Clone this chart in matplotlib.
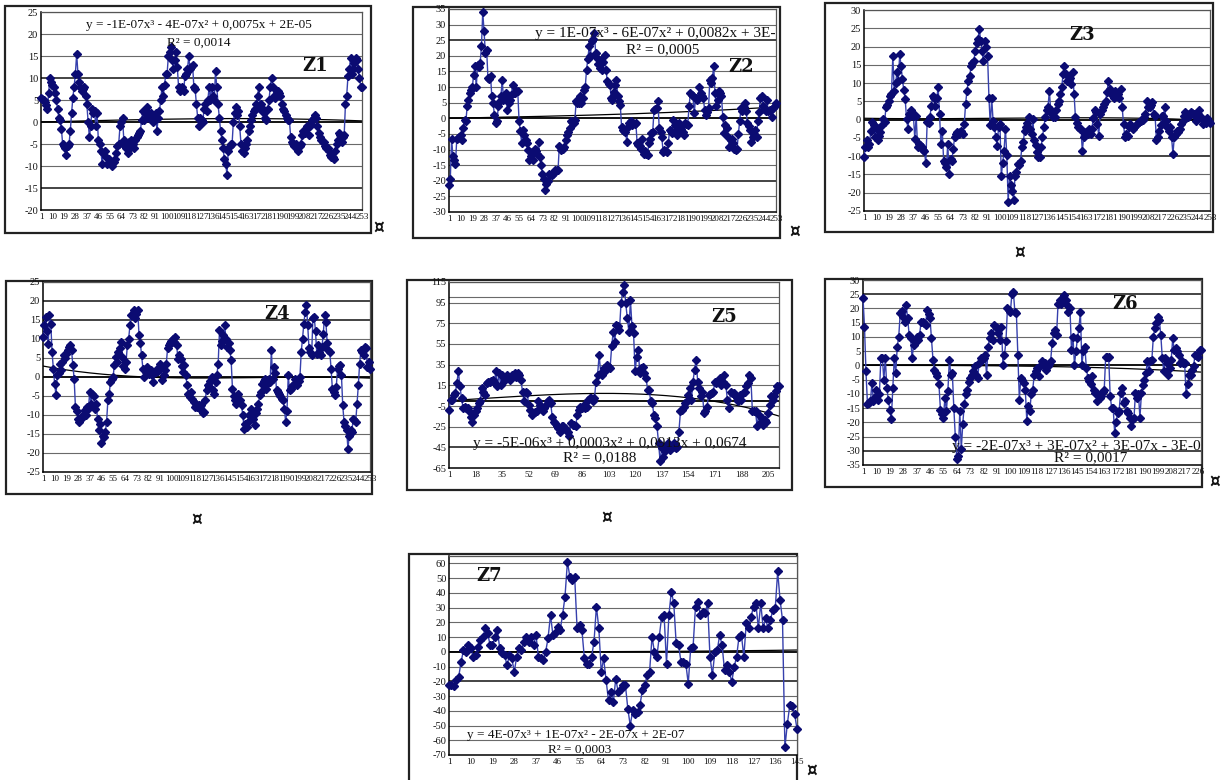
import numpy as np
import matplotlib
matplotlib.use("Agg")
import matplotlib.pyplot as plt
from matplotlib.patches import Rectangle

plt.rcParams['font.family'] = ['Liberation Serif', 'DejaVu Serif']

W, H = 1229, 780

# ---- series values (one value per observation) ----
z1_values = [
    5.5, 5.2, 5.0, 4.6, 3.8, 3.0, 6.5, 10.0, 9.0, 8.5,
    8.0, 6.5, 5.0, 3.0, 1.0, 0.5, -1.5, -5.0, -5.5, -6.0,
    -7.5, -5.5, -5.0, -2.0, 2.0, 5.5, 8.0, 11.0, 15.5, 11.0,
    9.0, 8.0, 7.0, 7.5, 8.0, 6.0, 4.0, 0.0, -3.5, -1.0,
    3.0, 2.0, 2.5, -1.0, 2.0, -4.0, -5.0, -6.5, -9.5, -7.0,
    -6.5, -8.0, -9.5, -8.5, -9.0, -9.5, -10.0, -9.0, -8.5, -7.0,
    -5.5, -5.0, -1.0, 0.0, 1.0, -4.0, -5.5, -6.0, -7.0, -4.5,
    -6.0, -4.0, -5.0, -6.0, -4.0, -3.5, -3.0, -2.5, -2.0, 0.5,
    2.5, 0.5, 2.0, 3.5, 2.0, 1.0, 2.0, 1.0, 0.0, 1.0,
    2.0, -2.0, 1.0, 2.5, 5.0, 8.0, 6.0, 8.5, 11.0, 11.0,
    15.0, 16.0, 17.0, 14.0, 12.0, 14.0, 16.0, 12.5, 8.0, 7.0,
    7.5, 8.0, 7.0, 10.5, 11.0, 12.0, 15.0, 12.0, 12.5, 13.0,
    8.0, 7.5, 4.0, 1.0, -1.0, 1.0, 0.5, 0.0, 3.0, 4.0,
    2.5, 5.0, 8.0, 5.0, 8.0, 6.0, 5.0, 11.5, 8.0, 4.0,
    1.0, -2.0, -4.0, -6.0, -8.5, -9.5, -12.0, -6.5, -5.5, -5.0,
    -5.0, 0.0, 2.0, 3.5, 1.5, 2.5, -1.0, -5.0, -6.5, -7.0,
    -6.0, -5.0, -4.0, -2.0, -1.0, 0.5, 1.5, 2.5, 3.0, 4.0,
    6.0, 8.0, 3.0, 4.0, 3.0, 2.0, 1.0, 0.5, 3.0, 5.0,
    8.0, 10.0, 8.0, 6.0, 5.5, 6.5, 7.0, 6.5, 6.0, 4.0,
    3.0, 2.5, 1.5, 1.0, 0.5, 0.5, -3.5, -4.5, -5.0, -5.5,
    -5.0, -6.0, -6.5, -5.5, -5.0, -3.0, -2.0, -2.5, -1.5, -1.0,
    -3.0, -1.0, -0.5, 0.5, 1.0, 1.5, 1.0, -1.0, -2.5, -3.5,
    -4.0, -4.5, -4.5, -5.5, -6.0, -6.0, -6.5, -7.5, -8.0, -8.0,
    -8.5, -6.5, -5.0, -4.0, -2.5, -3.0, -4.5, -3.5, -3.0, 4.0,
    6.0, 10.5, 12.0, 14.5, 11.0, 12.0, 13.5, 14.5, 14.0, 12.0,
    10.0, 8.0, 8.0,
]

z2_values = [
    -21.5, -19.5, -6.5, -12.0, -13.5, -14.5, -6.5, -6.2, -6.0, -5.4, -7.0, -3.0,
    -0.5, -1.0, 3.8, 6.0, 8.0, 9.0, 10.0, 14.0, 16.7, 10.0, 17.0, 16.5,
    17.7, 23.0, 34.0, 28.0, 21.0, 22.0, 13.0, 12.5, 13.5, 7.0, 5.0, 1.0,
    -1.6, -1.0, 3.8, 5.5, 7.0, 12.4, 6.0, 7.0, 8.0, 2.7, 5.0, 6.0,
    7.5, 10.8, 8.0, 8.2, 8.6, 8.6, -1.0, -4.0, -8.0, -3.8, -5.4, -7.0,
    -8.0, -10.0, -13.4, -12.0, -10.8, -13.4, -9.7, -10.5, -11.3, -7.5, -12.4, -15.0,
    -17.7, -19.4, -23.0, -21.0, -20.0, -17.7, -18.3, -18.0, -17.7, -17.2, -16.7, -16.5,
    -16.7, -9.0, -10.0, -9.8, -9.7, -9.1, -7.0, -5.5, -4.3, -3.2, -1.0, -1.2,
    -1.6, -0.5, 5.4, 5.0, 4.8, 7.0, 4.8, 6.5, 9.0, 10.0, 15.6, 19.0,
    23.0, 20.0, 24.7, 25.5, 27.4, 21.0, 19.4, 17.5, 16.0, 18.8, 15.6, 18.0,
    20.4, 15.6, 11.8, 11.0, 10.8, 6.5, 6.0, 8.5, 10.8, 12.4, 7.0, 5.5,
    4.3, -2.7, -3.8, -4.0, -4.3, -7.5, -2.7, -1.5, -1.0, -2.0, -1.6, -1.8,
    -1.6, -8.0, -8.6, -9.0, -9.7, -6.5, -11.3, -10.5, -11.3, -11.8, -8.0, -6.5,
    -4.8, -4.3, 2.7, 3.0, 3.2, 5.4, -3.2, -4.5, -6.0, -10.8, -10.2, -10.5,
    -10.8, -8.0, -3.8, -4.2, -4.8, -0.5, -2.0, -4.0, -5.4, -1.6, -2.7, -3.5,
    -4.3, -5.4, -1.6, -1.8, -2.0, 3.8, 8.0, 7.5, 7.0, 1.6, 6.5, 6.0,
    6.5, 10.0, 8.0, 7.0, 6.5, 2.7, 1.0, 2.0, 3.2, 12.4, 11.3, 13.0,
    16.7, 8.0, 3.8, 6.0, 8.6, 8.0, 7.0, 0.5, -4.8, -2.0, -3.2, -6.0,
    -9.1, -7.0, -6.5, -8.0, -9.7, -10.2, -9.7, -5.0, -1.0, 3.2, 2.2, 3.5,
    4.8, 2.2, -1.6, -2.5, -3.8, -7.5, -6.0, -5.0, -3.8, -6.0, -1.0, 2.0,
    6.5, 7.0, 3.8, 3.0, 2.2, 6.0, 2.2, 2.5, 2.7, 0.5, 3.2, 4.0,
    4.8,
]

z3_values = [
    -10.3, -7.5, -5.7, -7.5, -6.6, -3.0, -0.7, -1.6, -4.8, -2.1, -5.7, -4.5,
    -3.5, -1.6, 0.2, -0.7, 3.4, 4.0, 5.2, 6.5, 7.0, 17.5, 7.9, 10.0,
    12.9, 10.6, 17.9, 14.7, 11.0, 8.0, 5.6, 0.2, -2.5, 1.5, 2.5, 2.0,
    1.1, -5.3, 1.1, -7.5, -6.6, -7.0, -7.5, -8.2, -8.5, -12.0, -0.7, -1.0,
    0.6, 3.8, 6.5, 6.0, 3.8, 6.0, 8.8, 1.5, -6.6, -3.0, -11.2, -12.0,
    -13.0, -6.6, -14.8, -10.7, -11.2, -8.0, -4.8, -3.9, -3.5, -3.9, -3.5, -3.0,
    -3.9, -1.2, 4.3, 7.9, 10.6, 12.0, 14.7, 15.6, 16.0, 18.8, 21.0, 22.0,
    24.7, 21.5, 18.8, 16.0, 21.5, 20.0, 17.5, 6.0, -1.6, 6.0, -0.3, -2.0,
    -4.8, -7.1, -2.1, -1.2, -15.3, -12.0, -8.5, -2.5, -9.8, -22.5, -15.3, -18.0,
    -19.4, -22.1, -15.3, -14.4, -12.1, -12.5, -11.2, -7.5, -6.2, -3.0, -2.1, -1.0,
    0.6, -2.5, -3.9, 0.2, -5.7, -7.0, -8.9, -10.3, -10.3, -7.5, -4.8, -2.0,
    0.6, 2.5, 3.4, 7.9, 2.5, 1.5, 0.6, 0.6, 2.5, 4.3, 5.2, 7.0,
    8.8, 12.5, 14.7, 12.5, 10.6, 11.0, 11.5, 9.7, 12.9, 7.0, 0.6, -1.0,
    -2.1, -2.5, -2.5, -8.5, -4.8, -4.0, -3.5, -3.9, -2.5, -3.9, -2.5, 0.5,
    2.5, 2.0, -1.2, -4.4, 1.5, 2.5, 3.4, 4.3, 5.2, 7.5, 10.6, 8.5,
    7.0, 7.5, 6.0, 7.9, 6.5, 7.0, 6.0, 8.4, 3.4, -1.2, -4.8, -4.0,
    -4.4, -2.1, -1.2, -2.1, -2.5, -2.0, -1.6, -1.2, -0.7, -0.3, -0.3, 0.0,
    0.6, 1.5, 5.2, 3.4, 3.4, 4.0, 4.7, 1.5, 1.1, -5.7, -4.8, -3.0,
    -1.6, 1.1, 1.1, 3.4, -0.3, -2.0, -3.0, -2.1, -4.8, -9.4, -4.8, -4.0,
    -3.0, -3.5, -2.5, -1.2, -0.3, 1.0, 2.0, 1.5, 0.6, 1.1, 2.0, 1.8,
    1.5, 1.1, -0.3, 1.5, 2.5, 1.0, 0.2, -1.2, -0.7, -1.0, 0.5, -0.5,
    -1.0,
]

z4_values = [
    10.5, 13.6, 15.8, 12.0, 8.8, 16.2, 14.0, 6.6, 2.0,
    -1.8, -4.8, 0.4, 1.0, 3.5, 1.8, 3.9, 5.7, 5.0,
    6.1, 7.0, 7.9, 8.5, 7.0, 3.1, -0.4, -7.9, -9.0,
    -11.0, -11.8, -11.0, -10.5, -10.1, -8.8, -10.1, -7.9, -8.5,
    -3.9, -7.0, -4.4, -5.0, -8.3, -7.0, -11.0, -14.0, -12.5,
    -17.5, -15.4, -15.8, -14.5, -11.8, -6.1, -4.4, -1.3, -0.5,
    0.0, 3.1, 5.3, 4.0, 6.6, 7.5, 9.2, 5.3, 3.0,
    2.2, 3.9, 8.3, 10.0, 13.6, 16.2, 16.7, 17.5, 15.5,
    16.7, 17.5, 11.0, 9.0, 5.7, 2.2, 0.0, 1.3, 2.5,
    1.8, 0.9, 1.8, 0.5, -1.3, 1.3, 1.3, 2.2, 1.5,
    3.5, 2.6, -0.9, 0.5, 1.8, 3.5, 7.5, 8.3, 9.0,
    9.6, 10.1, 9.2, 10.5, 8.3, 4.8, 5.7, 4.8, 3.0,
    1.3, 3.1, 0.4, -2.0, -4.4, -5.3, -3.9, -5.7, -6.5,
    -7.9, -7.0, -7.9, -7.5, -8.3, -7.5, -9.6, -9.2, -6.0,
    -3.5, -2.2, -2.6, -1.0, 0.0, -3.5, -4.4, -1.3, 0.5,
    3.5, 12.3, 8.3, 9.5, 11.0, 13.6, 10.1, 7.9, 9.0,
    7.0, 4.4, -3.1, -5.0, -6.1, -7.0, -4.4, -6.6, -6.0,
    -7.5, -10.1, -13.6, -12.5, -13.2, -11.8, -10.1, -8.3, -9.5,
    -11.0, -12.7, -9.6, -8.5, -7.0, -4.8, -3.9, -1.8, -1.0,
    -0.4, -3.1, -1.8, -0.5, -1.3, 7.0, -0.4, 2.6, 1.0,
    -3.5, -3.9, -4.4, -5.0, -5.7, -6.1, -8.3, -11.8, -9.0,
    0.4, -3.5, -3.1, -2.5, -2.2, -0.4, -1.8, -2.2, -1.0,
    0.0, 6.6, 10.1, 14.0, 17.1, 18.9, 13.6, 7.5, 6.5,
    5.7, 15.4, 15.8, 12.0, 6.1, 8.3, 6.6, 5.7, 8.0,
    11.4, 16.2, 14.5, 9.0, 7.0, 6.6, 2.2, -3.1, -4.0,
    -4.8, -2.6, 2.2, 2.8, 3.1, 0.4, -7.5, -11.8, -13.0,
    -14.0, -18.9, -15.4, -14.0, -14.5, -11.0, -11.4, -11.8, -7.0,
    -2.2, 3.5, 7.0, 6.5, 5.7, 7.9, 7.5, 2.6, 4.0,
    2.2,
]

z5_values = [
    -8.7, 1.0, 1.0, 5.8, 7.4, 17.0, 28.4, 13.9, 2.6, -7.1, -5.5, -7.1, -7.1, -10.0,
    -15.2, -20.0, -13.5, -10.3, -7.1, -2.3, -0.6, 12.3, 9.0, 5.8, 17.0, 18.7, 18.7, 19.5,
    20.3, 18.7, 28.4, 13.9, 26.8, 15.5, 25.2, 21.9, 20.3, 25.2, 21.9, 20.3, 25.2, 24.0,
    26.8, 23.5, 26.8, 25.2, 20.3, 9.0, -0.6, 9.0, 7.4, -3.9, -8.7, -13.5, -11.9, -11.0,
    -10.3, -0.6, -3.9, -7.1, -10.3, -7.1, -3.9, -0.6, 1.0, -2.3, -15.2, -20.0, -21.6, -24.0,
    -26.5, -29.7, -24.8, -24.8, -26.5, -28.0, -29.7, -34.5, -21.6, -23.2, -23.2, -24.8, -13.5, -9.0,
    -5.5, -7.1, -3.9, -7.1, -5.5, 1.0, 2.6, 2.6, -0.6, 2.6, 18.7, 25.2, 44.5, 27.0,
    25.2, 31.6, 28.4, 34.8, 33.2, 31.6, 52.6, 67.0, 57.4, 73.5, 72.0, 68.7, 94.5, 105.0,
    112.0, 94.5, 80.0, 67.0, 97.7, 72.0, 65.5, 28.4, 42.9, 49.4, 26.8, 31.6, 33.2, 27.0,
    21.9, 10.6, 10.6, -0.6, -2.3, -13.5, -16.8, -24.8, -41.0, -58.7, -45.8, -53.9, -49.0, -44.0,
    -41.0, -47.4, -45.8, -44.2, -41.0, -45.8, -44.2, -29.7, -10.3, -8.7, -5.5, -2.3, -0.6, 6.0,
    12.3, 1.0, 18.7, 30.0, 39.7, 18.7, 12.3, 4.2, 9.0, -11.9, -10.3, -5.5, 5.8, 6.5,
    7.4, 9.0, 18.7, 17.0, 18.7, 21.9, 15.5, 18.7, 25.2, 15.5, 1.0, -7.1, 9.0, 8.0,
    7.4, 5.8, 2.6, -0.6, 5.8, 1.0, 7.4, 9.0, 13.9, 17.0, 25.2, 21.9, -10.3, -10.0,
    -10.3, -24.8, -13.5, -21.6, -16.8, -23.2, -18.4, -20.0, -11.9, -3.9, 4.2, 1.0, 4.2, 10.0,
    13.9, 13.9,
]

z6_values = [
    23.7, 13.6, -2.1, -13.7, -13.1, -12.6, -6.2, -12.6, -11.0,
    -8.5, -12.0, -10.2, 2.6, 2.6, -5.0, 2.6, -7.9, -12.0,
    -15.5, -19.0, -7.9, 2.6, -2.7, 6.6, 10.1, 18.3, 19.0,
    17.1, 15.3, 21.2, 16.5, 10.7, 9.5, 2.6, 7.2, 8.5,
    10.1, 9.0, 10.7, 15.3, 15.3, 14.8, 14.2, 19.4, 18.0,
    16.5, 9.5, 2.0, -1.5, -2.7, -3.8, -6.7, -15.5, -17.0,
    -18.4, -11.4, -16.0, -9.1, 2.0, -3.3, -2.7, -15.0, -25.0,
    -32.9, -31.7, -16.0, -29.4, -20.7, -13.7, -10.2, -8.5, -6.0,
    -4.4, -3.3, -2.1, -0.3, -3.3, -4.4, 0.8, 2.6, 2.0,
    2.6, 3.7, -3.3, 6.6, 9.5, 11.3, 9.0, 14.2, 13.5,
    13.0, 11.3, 9.0, 13.6, 0.2, 3.7, 8.4, 20.0, 19.5,
    18.8, 25.2, 25.8, 18.8, 18.3, 3.7, -12.0, -4.4, -5.0,
    -6.2, -8.5, -19.5, -14.3, -16.0, -10.2, -8.5, -3.3, -2.0,
    -0.9, -3.8, -0.3, 1.4, 0.2, 0.8, -1.5, -0.3, 0.5,
    1.4, 7.8, 11.3, 12.4, 10.7, 21.7, 22.9, 21.7, 23.5,
    24.7, 22.9, 21.2, 18.8, 20.0, 5.5, 10.1, 0.2, 5.0,
    9.5, 13.0, 18.8, 0.2, 4.9, 6.6, -0.9, -4.4, -5.5,
    -6.7, -3.8, -8.5, -9.7, -12.6, -10.2, -11.4, -10.8, -9.5,
    -8.5, 3.1, 3.1, 3.1, -10.8, -14.9, -14.9, -23.6, -20.0,
    -16.6, -16.0, -9.7, -7.9, -13.1, -12.6, -16.0, -16.6, -18.5,
    -21.3, -19.0, -18.4, -9.7, -11.4, -10.2, -18.4, -9.7, -7.0,
    -5.0, -2.7, 1.4, -2.1, 1.4, 2.0, 10.1, 13.0, 15.0,
    17.1, 15.9, 10.7, 2.6, -2.1, 2.6, 0.8, -3.3, -1.0,
    2.0, 9.5, 5.5, 6.0, 4.9, 3.7, 0.8, 1.4, 1.0,
    0.8, -10.2, -6.7, -3.3, -3.3, -1.5, -0.3, 3.7, 3.4,
    3.1, 5.5, 5.5,
]

z7_values = [
    -22.3, -22.7, -23.2, -19.3, -17.0, -6.8, 1.1, 0.0, 4.5, 2.3,
    -3.4, -2.3, 3.4, 8.0, 10.2, 15.9, 12.5, 4.5, 4.5, 10.2,
    14.8, 2.3, -1.1, -2.3, -9.1, -2.3, -4.5, -13.6, -3.4, 2.3,
    1.1, 6.8, 10.2, 6.8, 10.2, 4.5, 11.4, -3.4, -4.5, -5.7,
    0.0, 9.5, 25.0, 11.4, 12.5, 17.0, 14.8, 25.0, 37.5, 61.0,
    51.0, 48.9, 51.0, 15.9, 18.2, 14.8, -4.1, -8.0, -8.6, -3.4,
    6.8, 30.7, 15.9, -13.6, -4.5, -19.3, -33.0, -27.3, -34.1, -18.2,
    -27.3, -25.0, -22.7, -22.7, -38.6, -50.0, -39.8, -42.0, -40.9, -36.4,
    -26.1, -22.7, -15.9, -13.6, 10.2, 0.0, -3.4, 10.2, 23.9, 25.0,
    -8.0, 25.0, 40.9, 33.0, 5.7, 4.5, -6.8, -6.8, -8.0, -21.6,
    2.3, 3.4, 30.7, 34.1, 25.0, 27.3, 26.1, 33.0, -3.4, -15.9,
    0.0, 1.1, 11.4, 4.5, -12.5, -9.1, -13.6, -20.5, -10.2, -3.4,
    10.2, 11.4, -3.4, 19.3, 15.9, 23.9, 30.7, 33.0, 15.9, 33.0,
    15.9, 22.7, 15.9, 21.6, 28.4, 29.5, 54.5, 35.2, 21.6, -64.8,
    -48.9, -36.4, -36.8, -42.0, -52.3,
]

# ---- cubic trend-line coefficients (highest power first) ----
z1_trend = [-1e-07, -4e-07, 0.0075, 2e-05]
z2_trend = [1e-07, -6e-07, 0.0082, 3e-05]
z5_trend = [-5e-06, 0.0003, 0.0913, 0.0674]
z6_trend = [-2e-07, 3e-07, 3e-07, -3e-05]
z7_trend = [4e-07, 1e-07, -2e-07, 2e-07]

z1_equation = "y = -1E-07x³ - 4E-07x² + 0,0075x + 2E-05"
z2_equation = "y = 1E-07x³ - 6E-07x² + 0,0082x + 3E-05"
z5_equation = "y = -5E-06x³ + 0,0003x² + 0,0913x + 0,0674"
z6_equation = "y = -2E-07x³ + 3E-07x² + 3E-07x - 3E-05"
z7_equation = "y = 4E-07x³ + 1E-07x² - 2E-07x + 2E-07"
z1_r2 = "R² = 0,0014"
z2_r2 = "R² = 0,0005"
z5_r2 = "R² = 0,0188"
z6_r2 = "R² = 0,0017"
z7_r2 = "R² = 0,0003"

LINE = '#3640ad'
MARK = '#0b0b72'


def frac_rect(l, t, r, b):
    return [l / W, 1 - b / H, (r - l) / W, (b - t) / H]


def fx(x):
    return x / W


def fy(y):
    return 1 - y / H


panels = [
    dict(name='Z1', values=z1_values, ylim=(-20, 25), ystep=5, xstep=9,
         plot=(41, 12, 362, 210), frame=(5, 6, 371, 233),
         label=(315, 66), trend=z1_trend, eq=z1_equation, r2=z1_r2,
         eq_pos=(199, 25), r2_pos=(199, 43), eq_size=9.5, dark=[10, -15],
         sign=(379, 228)),
    dict(name='Z2', values=z2_values, ylim=(-30, 35), ystep=5, xstep=9,
         plot=(449, 9, 776, 212), frame=(413, 7, 780, 238),
         label=(741, 67), trend=z2_trend, eq=z2_equation, r2=z2_r2,
         eq_pos=(535, 33), r2_pos=(663, 50), eq_size=11, eq_ha='left', dark=[25, -20],
         sign=(795, 232)),
    dict(name='Z3', values=z3_values, ylim=(-25, 30), ystep=5, xstep=9,
         plot=(864, 10, 1210, 211), frame=(825, 3, 1213, 232),
         label=(1082, 35), trend=None, dark=[-10],
         sign=(1020, 253)),
    dict(name='Z4', values=z4_values, ylim=(-25, 25), ystep=5, xstep=9,
         plot=(43, 282, 370, 472), frame=(6, 281, 372, 494),
         label=(277, 314), trend=None, dark=[15, 20],
         sign=(197, 520)),
    dict(name='Z5', values=z5_values, ylim=(-65, 115), ystep=20, xstep=17,
         plot=(449, 282, 779, 468), frame=(407, 280, 792, 490),
         label=(724, 317), trend=z5_trend, eq=z5_equation, r2=z5_r2,
         eq_pos=(610, 443), r2_pos=(600, 458), eq_size=11, dark=[-45],
         extra_lines=[100], sign=(607, 518)),
    dict(name='Z6', values=z6_values, ylim=(-35, 30), ystep=5, xstep=9,
         plot=(863, 280, 1201, 465), frame=(825, 279, 1202, 487),
         label=(1125, 304), trend=z6_trend, eq=z6_equation, r2=z6_r2,
         eq_pos=(952, 447), r2_pos=(1091, 458), eq_size=11, eq_ha='left', dark=[25, -30],
         sign=(1215, 482)),
    dict(name='Z7', values=z7_values, ylim=(-70, 65), ystep=10, xstep=9,
         plot=(449, 556, 797, 755), frame=(409, 554, 797, 782),
         label=(489, 576), trend=z7_trend, eq=z7_equation, r2=z7_r2,
         eq_pos=(576, 735), r2_pos=(580, 750), eq_size=9.5, dark=[-20], ymax_tick=60,
         sign=(812, 771)),
]

fig = plt.figure(figsize=(W / 100, H / 100), dpi=100)
fig.patch.set_facecolor('white')

for p in panels:
    l, t, r, b = p['frame']
    fig.add_artist(Rectangle((fx(l), fy(b)), (r - l) / W, (b - t) / H,
                             transform=fig.transFigure, fill=False,
                             ec='#222222', lw=1.6, zorder=0))

    ax = fig.add_axes(frac_rect(*p['plot']))
    vals = np.asarray(p['values'], dtype=float)
    n = len(vals)
    idx = np.arange(1, n + 1)
    ymin, ymax = p['ylim']
    top_tick = p.get('ymax_tick', ymax)
    yt = np.arange(ymin, top_tick + 1, p['ystep'])

    for y in yt:
        if y == ymin or y == 0:
            continue
        dark = y in p.get('dark', [])
        ax.axhline(y, color='#111111' if dark else '#6a6a6a',
                   lw=1.1 if dark else 0.8, zorder=1)
    for y in p.get('extra_lines', []):
        ax.axhline(y, color='#6a6a6a', lw=0.8, zorder=1)
    ax.axhline(0, color='black', lw=1.3, zorder=2)

    ax.plot(idx, vals, color=LINE, lw=1.0, marker='D', ms=3.6,
            mfc=MARK, mec=MARK, zorder=3, clip_on=False)

    coef = p['trend']
    if coef is None:
        coef = np.polyfit(idx, vals, 3)
    ax.plot(idx, np.polyval(coef, idx), color='black', lw=0.9, zorder=2.5)

    ax.set_xlim(1, n)
    ax.set_ylim(ymin, ymax)
    ax.set_yticks(yt)
    ax.set_yticklabels([str(v) for v in yt], fontsize=7.5)
    xt = np.arange(1, n + 1, p['xstep'])
    ax.set_xticks(xt)
    ax.set_xticklabels([str(v) for v in xt], fontsize=6.5)
    ax.tick_params(length=0, pad=2, colors='#111111')
    for s in ('left', 'bottom'):
        ax.spines[s].set_color('black')
        ax.spines[s].set_linewidth(1.1)
    for s in ('top', 'right'):
        ax.spines[s].set_color('#555555')
        ax.spines[s].set_linewidth(0.9)

    fig.text(fx(p['label'][0]), fy(p['label'][1]), p['name'],
             family='DejaVu Serif', weight='bold', fontsize=13,
             ha='center', va='center', color='#111111')

    if p.get('eq'):
        ha = p.get('eq_ha', 'center')
        ex, ey = p['eq_pos']
        ax.text(fx(ex), fy(ey), p['eq'], transform=fig.transFigure,
                fontsize=p['eq_size'], ha=ha, va='center', color='#111111',
                clip_on=True, zorder=4)
        rx, ry = p['r2_pos']
        ax.text(fx(rx), fy(ry), p['r2'], transform=fig.transFigure,
                fontsize=p['eq_size'], ha='center', va='center', color='#111111',
                clip_on=True, zorder=4)

    sx, sy = p['sign']
    fig.text(fx(sx), fy(sy), '¤', family='DejaVu Sans', weight='bold',
             fontsize=12, ha='center', va='center', color='#111111')

fig.savefig('out.png', dpi=100, facecolor='white')
